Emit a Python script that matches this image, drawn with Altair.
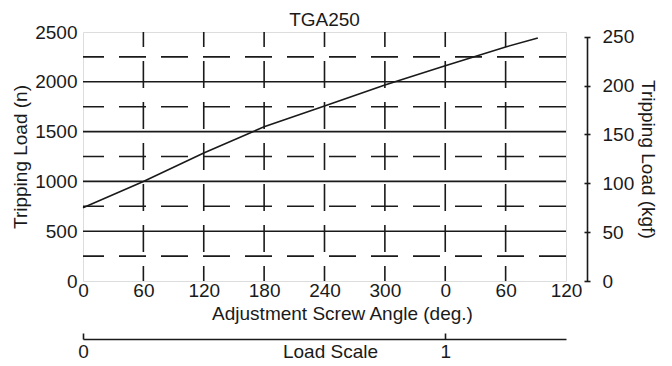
import altair as alt
import pandas as pd

# ---- data ----
angles = [0, 60, 120, 180, 240, 300, 360, 420, 452]              # cumulative screw angle (deg.)
loads_n = [735, 1000, 1285, 1548, 1758, 1968, 2162, 2350, 2440]  # tripping load (n)

solid_grid = [500, 1000, 1500, 2000]
dashed_grid = [250, 750, 1250, 1750, 2250]
vertical_grid = [60, 120, 180, 240, 300, 360, 420]
angle_ticks = [0, 60, 120, 180, 240, 300, 360, 420, 480]
load_ticks_n = [0, 500, 1000, 1500, 2000, 2500]
load_ticks_kgf = [0, 50, 100, 150, 200, 250]
load_scale_ticks = [0, 360]  # one turn = 1 on the load scale
N_PER_KGF = 9.80665

FONT = "Liberation Sans"
INK = "#1a1a1a"
W, H = 483, 249
SW = 1.6
FS = 19

xscale = alt.Scale(domain=[0, 480], nice=False, zero=False)
yscale = alt.Scale(domain=[0, 2500], nice=False)
# kgf scale drawn on the same physical axis (250 kgf = 2451.7 n)
kgf_top = H - H * (250 * N_PER_KGF) / 2500
kgfscale = alt.Scale(domain=[0, 250], nice=False, range=[H, kgf_top])

common_axis = dict(labelFont=FONT, titleFont=FONT, labelFontSize=FS, titleFontSize=FS,
                   labelColor=INK, titleColor=INK, titleFontWeight="normal", grid=False)

kgf_df = pd.DataFrame({"kgf": load_ticks_kgf})

# right kgf axis: ticks only (crossing the axis line)
kgf_ticks = alt.Chart(kgf_df).mark_point(opacity=0).encode(
    y=alt.Y("kgf:Q", scale=kgfscale, axis=alt.Axis(
        orient="right", offset=18, values=load_ticks_kgf, labels=False, domain=False,
        ticks=True, tickSize=6, tickColor=INK, tickWidth=SW, title=None, grid=False))
)

# right kgf axis: line and labels
kgf_axis = alt.Chart(kgf_df).mark_point(opacity=0).encode(
    y=alt.Y("kgf:Q", scale=kgfscale, axis=alt.Axis(
        orient="right", offset=21, values=load_ticks_kgf,
        ticks=False, tickSize=0, domain=True, domainColor=INK, domainWidth=SW,
        labelPadding=15, labelFlush=False, title="Tripping Load (kgf)", titlePadding=4,
        **common_axis))
)

hdash = alt.Chart(pd.DataFrame({"v": dashed_grid})).mark_rule(
    color=INK, strokeWidth=SW, strokeDash=[27, 15]
).encode(y=alt.Y("v:Q", scale=yscale, axis=None))

hsolid = alt.Chart(pd.DataFrame({"v": solid_grid})).mark_rule(
    color=INK, strokeWidth=SW
).encode(y=alt.Y("v:Q", scale=yscale, axis=None))

# vertical grid + load-scale axis underneath
vgrid = alt.Chart(pd.DataFrame({"a": vertical_grid})).mark_rule(
    color=INK, strokeWidth=SW, strokeDash=[27, 14], strokeDashOffset=12
).encode(
    x=alt.X("a:Q", scale=xscale, axis=alt.Axis(
        orient="top", offset=-(H + 58), values=load_scale_ticks, labelExpr="datum.value / 360",
        tickSize=6, tickColor=INK, tickWidth=SW, domainColor=INK, domainWidth=SW,
        labelPadding=-9, labelBaseline="top", labelFlush=False,
        title="Load Scale", titleX=247, titleY=12, titleBaseline="middle", **common_axis)),
    y=alt.YDatum(2500, scale=yscale, axis=None),
    y2=alt.Y2Datum(0),
)

curve = alt.Chart(pd.DataFrame({"angle": angles, "load": loads_n})).mark_line(
    color=INK, strokeWidth=SW
).encode(
    x=alt.X("angle:Q", scale=xscale, axis=alt.Axis(
        orient="bottom", values=angle_ticks, labelExpr="datum.value % 360",
        ticks=False, tickSize=0, domain=False, labelPadding=0, labelFlush=False,
        title="Adjustment Screw Angle (deg.)", titleX=259, titleY=32,
        titleBaseline="middle", **common_axis)),
    y=alt.Y("load:Q", scale=yscale, axis=alt.Axis(
        orient="left", values=load_ticks_n, format="d", ticks=False, tickSize=0, domain=False,
        labelPadding=6, labelFlush=False, title="Tripping Load (n)", titlePadding=4,
        **common_axis)),
)

chart = alt.layer(kgf_ticks, kgf_axis, hdash, hsolid, vgrid, curve).resolve_scale(
    x="shared", y="independent"
).resolve_axis(
    x="independent", y="independent"
).properties(
    width=W, height=H,
    autosize=alt.AutoSizeParams(type="none"),
    padding={"left": 75, "top": 24, "right": 98, "bottom": 85},
    title=alt.TitleParams("TGA250", font=FONT, fontSize=FS, fontWeight="normal",
                          color=INK, anchor="middle", offset=-7),
).configure_view(stroke=INK, strokeWidth=SW).configure(background="white")

chart.save("out.html", embed_options={"renderer": "svg", "actions": False})
